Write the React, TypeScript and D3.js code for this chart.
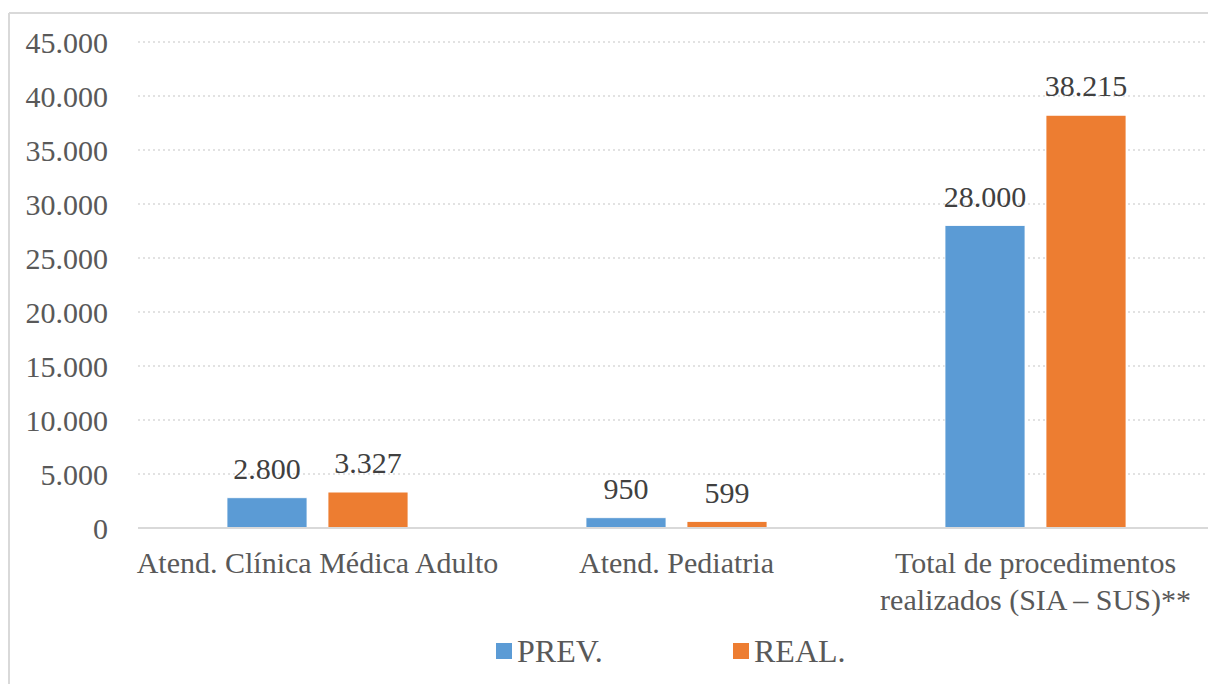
import React from "react";
import * as d3 from "d3";

const categories = ["Atend. Clínica Médica Adulto", "Atend. Pediatria", "Total de procedimentos realizados (SIA – SUS)**"];
const categoryLines = [["Atend. Clínica Médica Adulto"], ["Atend. Pediatria"], ["Total de procedimentos", "realizados (SIA – SUS)**"]];
const seriesNames = ["PREV.", "REAL."];
const prevValues = [2800, 950, 28000];
const realValues = [3327, 599, 38215];
const yTicks = [0, 5000, 10000, 15000, 20000, 25000, 30000, 35000, 40000, 45000];
const colors = ["#5B9BD5", "#ED7D31"];

const W = 1208;
const H = 684;
const left = 138;
const right = 1215;
const top = 42;
const bottom = 528;

const fmt = (v: number) => (v === 0 ? "0" : d3.format(",")(v).replace(/,/g, "."));

export default function App() {
  const x = d3.scaleBand<string>().domain(categories).range([left, right]).paddingInner(0).paddingOuter(0);
  const xs = d3.scaleBand<string>().domain(seriesNames).range([89, 270]).paddingInner(21 / 101).paddingOuter(0);
  const y = d3.scaleLinear().domain([0, 45000]).range([bottom, top]);
  const series = [prevValues, realValues];
  const font = "'Liberation Serif', 'Times New Roman', serif";

  return (
    <svg width={W} height={H} style={{ position: "absolute", left: 0, top: 0, background: "#fff", fontFamily: font }}>
      <rect x={0} y={0} width={W} height={H} fill="#fff" />
      {/* outer border */}
      <line x1={9} x2={W + 10} y1={13} y2={13} stroke="#d9d9d9" strokeWidth={2} />
      <line x1={9} x2={9} y1={13} y2={H + 10} stroke="#d9d9d9" strokeWidth={2} />
      {/* grid */}
      {yTicks.filter((t) => t > 0).map((t) => (
        <line key={t} x1={left} x2={right} y1={y(t)} y2={y(t)} stroke="#d9d9d9" strokeWidth={1.3} strokeDasharray="2 3" />
      ))}
      {/* y tick labels */}
      {yTicks.map((t) => (
        <text key={t} x={108} y={y(t)} dy="0.35em" textAnchor="end" fontSize={30} fill="#595959">
          {fmt(t)}
        </text>
      ))}
      {/* bars */}
      {categories.map((c, ci) =>
        series.map((vals, si) => {
          const bx = (x(c) as number) + (xs(seriesNames[si]) as number);
          return (
            <g key={c + si}>
              <rect x={bx} y={y(vals[ci])} width={xs.bandwidth()} height={bottom - y(vals[ci])} fill={colors[si]} stroke="#fff" strokeWidth={0.8} />
              <text x={bx + xs.bandwidth() / 2} y={y(vals[ci]) - 19} textAnchor="middle" fontSize={30} fill="#404040">
                {fmt(vals[ci])}
              </text>
            </g>
          );
        })
      )}
      {/* x axis */}
      <line x1={left} x2={right} y1={bottom} y2={bottom} stroke="#d9d9d9" strokeWidth={2} />
      {categories.map((c, ci) => (
        <text key={c} textAnchor="middle" fontSize={30} fill="#595959">
          {categoryLines[ci].map((ln, li) => (
            <tspan key={li} x={(x(c) as number) + x.bandwidth() / 2} y={573 + li * 37}>
              {ln}
            </tspan>
          ))}
        </text>
      ))}
      {/* legend */}
      {seriesNames.map((s, si) => {
        const lx = [496, 733][si];
        return (
          <g key={s}>
            <rect x={lx} y={643} width={16} height={16} fill={colors[si]} />
            <text x={lx + 21} y={662} fontSize={32} fill="#595959">
              {s}
            </text>
          </g>
        );
      })}
    </svg>
  );
}
